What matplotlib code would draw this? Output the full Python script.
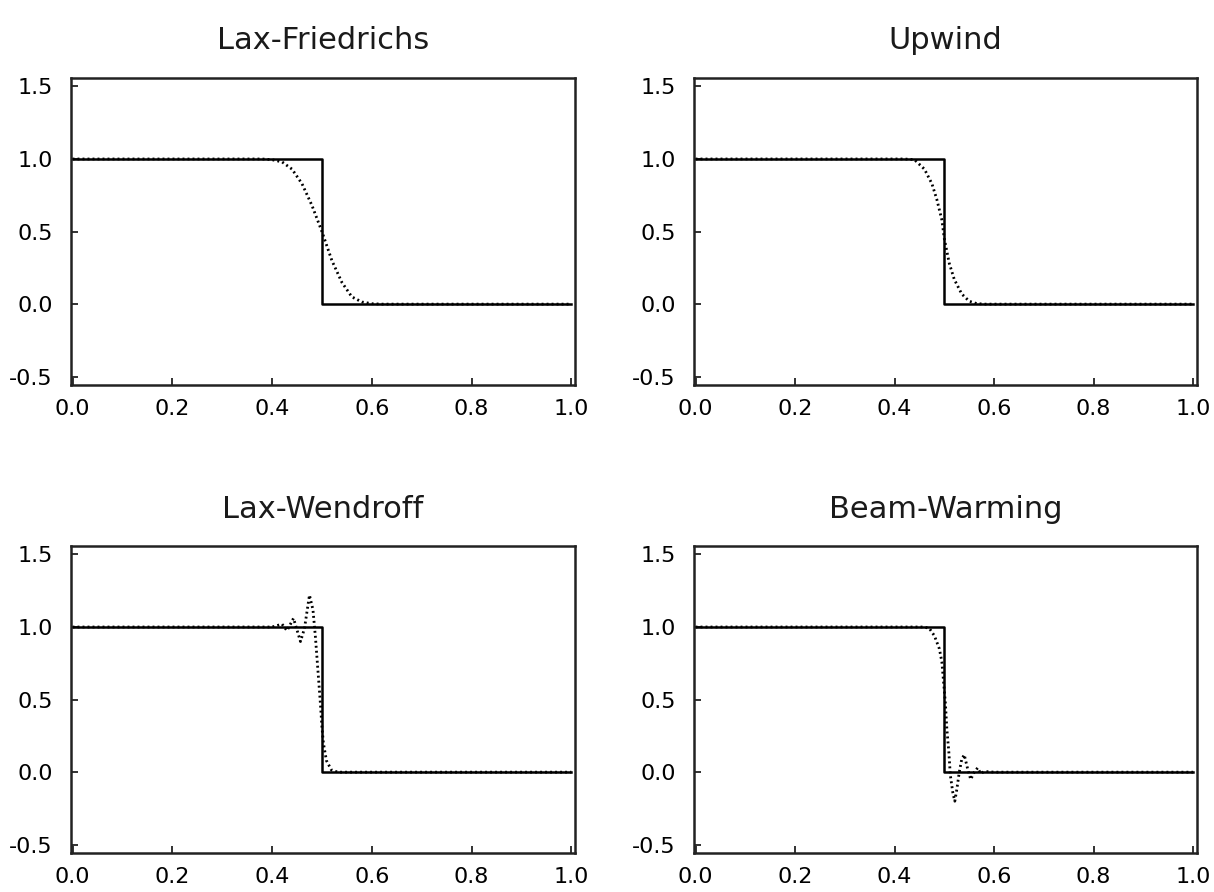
import matplotlib
matplotlib.use("Agg")
import matplotlib.pyplot as plt

plt.rcParams['font.family'] = ['DejaVu Sans']
plt.rcParams['axes.unicode_minus'] = False

# exact solution (step at x = 0.5)
exact_x = [0.0, 0.5, 0.5, 1.0]
exact_y = [1.0, 1.0, 0.0, 0.0]

# numerical solutions
lf_x = [0.0, 0.38, 0.40, 0.42, 0.44, 0.46, 0.48, 0.50, 0.52, 0.54, 0.56, 0.58, 0.60, 0.62, 1.0]
lf_y = [1.0, 1.0, 0.995, 0.98, 0.93, 0.83, 0.68, 0.50, 0.30, 0.15, 0.05, 0.015, 0.003, 0.0, 0.0]

up_x = [0.0, 0.42, 0.44, 0.46, 0.475, 0.485, 0.495, 0.50, 0.51, 0.52, 0.535, 0.55, 0.565, 0.58, 1.0]
up_y = [1.0, 1.0, 0.995, 0.93, 0.83, 0.72, 0.58, 0.45, 0.28, 0.17, 0.07, 0.02, 0.004, 0.0, 0.0]

lw_x = [0.0, 0.40, 0.41, 0.42, 0.43, 0.443, 0.457, 0.465, 0.475, 0.482, 0.487,
        0.492, 0.497, 0.50, 0.503, 0.509, 0.519, 0.532, 1.0]
lw_y = [1.0, 1.0, 1.01, 1.02, 0.975, 1.06, 0.90, 0.99, 1.22, 1.12, 0.93,
        0.70, 0.47, 0.31, 0.20, 0.08, 0.015, 0.0, 0.0]

bw_x = [0.0, 0.46, 0.47, 0.48, 0.49, 0.495, 0.502, 0.505, 0.509, 0.512, 0.517, 0.521,
        0.525, 0.53, 0.535, 0.54, 0.547, 0.553, 0.56, 0.567, 0.573, 0.58, 0.60, 1.0]
bw_y = [1.0, 1.0, 0.99, 0.94, 0.85, 0.76, 0.48, 0.30, 0.14, -0.02, -0.14, -0.20,
        -0.12, 0.0, 0.09, 0.12, 0.02, -0.05, 0.0, 0.03, -0.01, 0.005, 0.0, 0.0]

titles = ["Lax-Friedrichs", "Upwind", "Lax-Wendroff", "Beam-Warming"]
numeric = [(lf_x, lf_y), (up_x, up_y), (lw_x, lw_y), (bw_x, bw_y)]
xticks = [0.0, 0.2, 0.4, 0.6, 0.8, 1.0]
yticks = [-0.5, 0.0, 0.5, 1.0, 1.5]

fig = plt.figure(figsize=(12.14, 8.92), dpi=100)
positions = [
    [0.0585, 0.5684, 0.415, 0.344],
    [0.5717, 0.5684, 0.414, 0.344],
    [0.0585, 0.0437, 0.415, 0.344],
    [0.5717, 0.0437, 0.414, 0.344],
]
title_pads = [21, 21, 20, 20]

for pos, title, (nx, ny), tpad in zip(positions, titles, numeric, title_pads):
    ax = fig.add_axes(pos)
    ax.plot(exact_x, exact_y, color='black', lw=1.8)
    ax.plot(nx, ny, color='black', lw=2.0, linestyle=(0, (0.7, 1.1)))
    ax.set_xlim(-0.003, 1.007)
    ax.set_ylim(-0.557, 1.557)
    ax.set_xticks(xticks)
    ax.set_yticks(yticks)
    ax.set_xticklabels([f"{t:.1f}" for t in xticks])
    ax.set_yticklabels([f"{t:.1f}" for t in yticks])
    ax.tick_params(direction='in', length=5, width=1.3, labelsize=16, color='#222222')
    ax.tick_params(axis='x', pad=10)
    ax.tick_params(axis='y', pad=13)
    for s in ax.spines.values():
        s.set_linewidth(1.8)
        s.set_color('#222222')
    ax.set_title(title, fontsize=22, pad=tpad, color='#1a1a1a')

plt.savefig("out.png", dpi=100)
